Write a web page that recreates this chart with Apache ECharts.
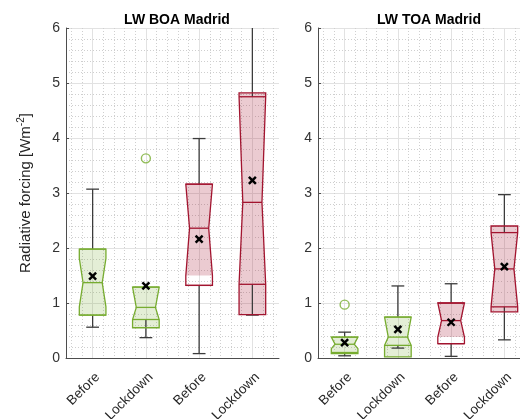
<!DOCTYPE html>
<html>
<head>
<meta charset="utf-8">
<title>LW radiative forcing Madrid</title>
<script src="https://cdn.jsdelivr.net/npm/echarts@6/dist/echarts.min.js"></script>
<style>
  html, body { margin: 0; padding: 0; background: #fff; }
  #chart { width: 520px; height: 419px; }
</style>
</head>
<body>
<div id="chart"></div>
<script>
// categories and box positions
const groups = ['Before', 'Lockdown', 'Before', 'Lockdown'];
const boxPos = [1, 2, 3, 4];

// LW BOA Madrid
const boaQ1 = [0.78, 0.70, 1.32, 1.34];
const boaMedian = [1.37, 0.92, 2.36, 2.83];
const boaQ3 = [1.98, 1.29, 3.16, 4.75];
const boaNotchLo = [0.93, 0.70, 1.50, 1.34];
const boaNotchHi = [1.81, 1.29, 3.16, 4.75];
const boaFillLo = [0.78, 0.55, 1.50, 0.79];
const boaFillHi = [1.98, 1.29, 3.16, 4.82];
const boaWhiskerLo = [0.56, 0.37, 0.08, 0.78];
const boaWhiskerHi = [3.07, 1.29, 3.99, 6.6];
const boaMean = [1.49, 1.31, 2.16, 3.23];
const boaOutliers = [[2, 3.63]];

// LW TOA Madrid
const toaQ1 = [0.10, 0.23, 0.26, 0.93];
const toaMedian = [0.25, 0.38, 0.68, 1.62];
const toaQ3 = [0.38, 0.745, 1.0, 2.28];
const toaNotchLo = [0.17, 0.23, 0.38, 0.93];
const toaNotchHi = [0.38, 0.745, 1.0, 2.28];
const toaFillLo = [0.08, 0.02, 0.38, 0.84];
const toaFillHi = [0.38, 0.745, 1.0, 2.40];
const toaWhiskerLo = [0.04, 0.18, 0.03, 0.33];
const toaWhiskerHi = [0.47, 1.31, 1.35, 2.97];
const toaMean = [0.28, 0.52, 0.65, 1.66];
const toaOutliers = [[1, 0.97]];

const yTicks = [0, 1, 2, 3, 4, 5, 6];

const GREEN = '#77AC30', RED = '#A2142F';
const edgeColors = [GREEN, GREEN, RED, RED];
const fillColors = ['rgba(119,172,48,0.2)', 'rgba(119,172,48,0.2)', 'rgba(162,20,47,0.22)', 'rgba(162,20,47,0.22)'];
const FONT = '"Liberation Sans", Helvetica, Arial, sans-serif';

function boxRows(q1, med, q3, nLo, nHi, fLo, fHi, wLo, wHi, mean) {
    return boxPos.map((p, i) => [p, q1[i], q3[i], med[i], nLo[i], nHi[i], fLo[i], fHi[i], wLo[i], wHi[i], mean[i]]);
}

function renderBox(params, api) {
    const i = params.dataIndex;
    const x = api.value(0);
    const q1 = api.value(1), q3 = api.value(2), med = api.value(3);
    const nLo = api.value(4), nHi = api.value(5);
    const fLo = api.value(6), fHi = api.value(7);
    const wLo = api.value(8), wHi = api.value(9), mean = api.value(10);
    const unit = api.size([1, 0])[0];
    const full = unit * 0.25, inner = full * 0.72, cap = unit * 0.12;
    const cx = api.coord([x, 0])[0];
    const py = v => api.coord([x, v])[1];
    // half width of the notched box at height y
    const half = y => {
        if (y > nLo && y < med) return full - (full - inner) * (y - nLo) / (med - nLo);
        if (y >= med && y < nHi) return inner + (full - inner) * (y - med) / (nHi - med);
        return full;
    };
    const yBot = Math.min(fLo, q1), yTop = Math.max(fHi, q3);
    const levels = [yBot, nLo, med, nHi, yTop];
    const outline = levels.map(y => [cx - half(y), py(y)])
        .concat(levels.slice().reverse().map(y => [cx + half(y), py(y)]));
    const fillLv = [fLo, nLo, med, nHi, fHi].filter(y => y >= fLo && y <= fHi).sort((a, b) => a - b);
    const fillPts = fillLv.map(y => [cx - half(y), py(y)])
        .concat(fillLv.slice().reverse().map(y => [cx + half(y), py(y)]));
    const edge = edgeColors[i];
    const wStyle = { stroke: '#3c3c3c', lineWidth: 1.3 };
    const kids = [];
    kids.push({ type: 'polygon', shape: { points: fillPts }, style: { fill: fillColors[i], stroke: null } });
    if (wHi > q3) {
        kids.push({ type: 'line', shape: { x1: cx, y1: py(q3), x2: cx, y2: py(wHi) }, style: wStyle });
        kids.push({ type: 'line', shape: { x1: cx - cap, y1: py(wHi), x2: cx + cap, y2: py(wHi) }, style: wStyle });
    }
    if (wLo < q1) {
        kids.push({ type: 'line', shape: { x1: cx, y1: py(q1), x2: cx, y2: py(wLo) }, style: wStyle });
        kids.push({ type: 'line', shape: { x1: cx - cap, y1: py(wLo), x2: cx + cap, y2: py(wLo) }, style: wStyle });
    }
    const eStyle = { stroke: edge, lineWidth: 1.3, fill: null };
    kids.push({ type: 'polygon', shape: { points: outline }, style: eStyle });
    [q1, q3].forEach(q => {
        kids.push({ type: 'line', shape: { x1: cx - half(q), y1: py(q), x2: cx + half(q), y2: py(q) }, style: eStyle });
    });
    kids.push({ type: 'line', shape: { x1: cx - inner, y1: py(med), x2: cx + inner, y2: py(med) }, style: eStyle });
    const my = py(mean), s = 3.5;
    const mStyle = { stroke: '#000', lineWidth: 2.4 };
    kids.push({ type: 'line', shape: { x1: cx - s, y1: my - s, x2: cx + s, y2: my + s }, style: mStyle });
    kids.push({ type: 'line', shape: { x1: cx - s, y1: my + s, x2: cx + s, y2: my - s }, style: mStyle });
    return { type: 'group', children: kids };
}

function xAxisFor(idx) {
    return {
        type: 'value', gridIndex: idx, min: 0.5, max: 4.5, splitNumber: 4,
        minInterval: 1, maxInterval: 1,
        axisLine: { show: true, onZero: false, lineStyle: { color: '#4d4d4d', width: 1 } },
        axisTick: { show: false },
        axisLabel: {
            rotate: 45, margin: 12, verticalAlign: 'top', fontSize: 13.5, color: '#262626', fontFamily: FONT,
            showMinLabel: false, showMaxLabel: false,
            formatter: v => (Number.isInteger(v) && v >= 1 && v <= 4) ? groups[v - 1] : ''
        },
        splitLine: { show: true, showMaxLine: false, lineStyle: { color: '#e2e2e2', width: 1 } },
        minorTick: { show: false, splitNumber: 5 },
        minorSplitLine: { show: true, lineStyle: { color: '#cfcfcf', width: 1, type: [1, 2] } }
    };
}

function yAxisFor(idx, name) {
    return {
        type: 'value', gridIndex: idx, min: yTicks[0], max: yTicks[yTicks.length - 1], interval: 1,
        name: name, nameLocation: 'middle', nameGap: 30,
        nameTextStyle: {
            fontFamily: FONT, color: '#262626',
            rich: {
                a: { fontSize: 15, lineHeight: 20, color: '#262626', fontFamily: FONT },
                s: { fontSize: 10, lineHeight: 10, verticalAlign: 'top', color: '#262626', fontFamily: FONT }
            }
        },
        axisLine: { show: true, lineStyle: { color: '#4d4d4d', width: 1 } },
        axisTick: { show: true, inside: true, length: 3, lineStyle: { color: '#4d4d4d' } },
        axisLabel: { margin: 6, fontSize: 14, color: '#333', fontFamily: FONT },
        splitLine: { show: true, lineStyle: { color: '#e2e2e2', width: 1 } },
        minorTick: { show: false, splitNumber: 5 },
        minorSplitLine: { show: true, lineStyle: { color: '#cfcfcf', width: 1, type: [1, 2] } }
    };
}

const chart = echarts.init(document.getElementById('chart'), null, { renderer: 'canvas' });

const option = {
    backgroundColor: '#fff',
    animation: false,
    title: [
        { text: 'LW BOA Madrid', left: 172, top: 8, textAlign: 'center',
          textStyle: { fontSize: 14, fontWeight: 'bold', color: '#000', fontFamily: FONT } },
        { text: 'LW TOA Madrid', left: 424, top: 8, textAlign: 'center',
          textStyle: { fontSize: 14, fontWeight: 'bold', color: '#000', fontFamily: FONT } }
    ],
    grid: [
        { left: 66, top: 28, width: 213, height: 330, outerBoundsMode: 'none' },
        { left: 318, top: 28, width: 213, height: 330, outerBoundsMode: 'none' }
    ],
    xAxis: [xAxisFor(0), xAxisFor(1)],
    yAxis: [yAxisFor(0, '{a|Radiative forcing [Wm}{s|-2}{a|]}'), yAxisFor(1, '')],
    series: [
        {
            type: 'custom', xAxisIndex: 0, yAxisIndex: 0, clip: true,
            renderItem: renderBox,
            data: boxRows(boaQ1, boaMedian, boaQ3, boaNotchLo, boaNotchHi, boaFillLo, boaFillHi, boaWhiskerLo, boaWhiskerHi, boaMean)
        },
        {
            type: 'custom', xAxisIndex: 1, yAxisIndex: 1, clip: true,
            renderItem: renderBox,
            data: boxRows(toaQ1, toaMedian, toaQ3, toaNotchLo, toaNotchHi, toaFillLo, toaFillHi, toaWhiskerLo, toaWhiskerHi, toaMean)
        },
        {
            type: 'scatter', xAxisIndex: 0, yAxisIndex: 0, symbol: 'circle', symbolSize: 9,
            itemStyle: { color: 'rgba(0,0,0,0)', borderColor: GREEN, borderWidth: 1.4 },
            data: boaOutliers
        },
        {
            type: 'scatter', xAxisIndex: 1, yAxisIndex: 1, symbol: 'circle', symbolSize: 9,
            itemStyle: { color: 'rgba(0,0,0,0)', borderColor: GREEN, borderWidth: 1.4 },
            data: toaOutliers
        }
    ]
};

chart.setOption(option);
window.addEventListener('resize', function () {
    chart.resize();
});
</script>
</body>
</html>
